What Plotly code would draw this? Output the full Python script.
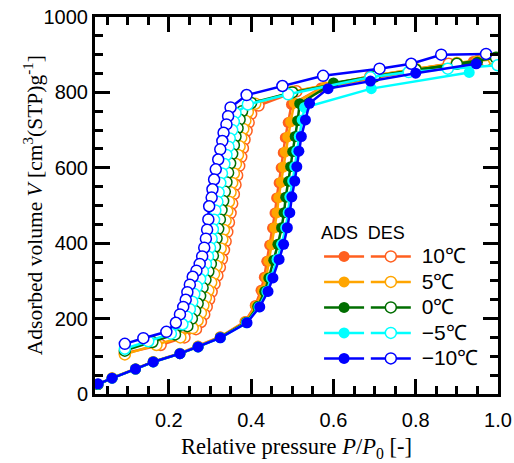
import plotly.graph_objects as go

# ---------------- data ----------------
temps = ["10℃", "5℃", "0℃", "−5℃", "−10℃"]
colors = ["#FF5F1F", "#FFA500", "#006E00", "#00FFFF", "#0000FF"]

# adsorption branches (filled markers)
ads_x_10 = [0.028, 0.062, 0.119, 0.162, 0.227, 0.271, 0.325, 0.385, 0.410, 0.424, 0.432, 0.438, 0.445, 0.452, 0.458, 0.462, 0.468, 0.473, 0.478, 0.483, 0.490, 0.498, 0.570, 0.800, 0.940]
ads_y_10 = [25, 43, 67, 86, 108, 127, 152, 192, 235, 275, 310, 352, 395, 440, 480, 520, 560, 600, 640, 680, 720, 768, 812, 858, 882]
ads_x_5 = [0.028, 0.062, 0.119, 0.162, 0.227, 0.271, 0.325, 0.386, 0.412, 0.428, 0.437, 0.443, 0.450, 0.457, 0.463, 0.467, 0.473, 0.478, 0.483, 0.489, 0.496, 0.505, 0.580, 0.800, 0.950]
ads_y_5 = [26, 43, 66, 86, 107, 126, 151, 191, 233, 274, 309, 353, 396, 441, 481, 521, 562, 602, 642, 682, 722, 772, 815, 862, 885]
ads_x_0 = [0.028, 0.062, 0.119, 0.162, 0.227, 0.271, 0.325, 0.388, 0.416, 0.433, 0.443, 0.455, 0.465, 0.474, 0.480, 0.484, 0.491, 0.496, 0.501, 0.507, 0.513, 0.518, 0.600, 0.800, 0.950]
ads_y_0 = [25, 42, 66, 85, 107, 125, 150, 190, 232, 272, 308, 355, 397, 441, 481, 522, 564, 603, 643, 683, 725, 770, 825, 860, 880]
ads_x_m5 = [0.028, 0.062, 0.119, 0.162, 0.227, 0.271, 0.325, 0.389, 0.419, 0.438, 0.449, 0.463, 0.474, 0.484, 0.490, 0.494, 0.501, 0.506, 0.511, 0.517, 0.524, 0.530, 0.692, 0.930]
ads_y_m5 = [26, 42, 66, 85, 107, 125, 149, 189, 231, 272, 308, 357, 397, 441, 481, 523, 565, 603, 644, 683, 727, 760, 810, 853]
ads_x_m10 = [0.028, 0.062, 0.119, 0.162, 0.227, 0.271, 0.325, 0.390, 0.421, 0.441, 0.453, 0.468, 0.479, 0.488, 0.494, 0.499, 0.506, 0.511, 0.516, 0.522, 0.532, 0.542, 0.587, 0.690, 0.800, 0.947]
ads_y_m10 = [27, 42, 66, 85, 107, 125, 149, 189, 231, 272, 308, 357, 397, 441, 481, 523, 565, 603, 644, 683, 727, 771, 810, 830, 851, 876]

# desorption branches (open markers)
des_x_10 = [0.970, 0.880, 0.790, 0.690, 0.510, 0.418, 0.400, 0.394, 0.389, 0.384, 0.380, 0.376, 0.371, 0.366, 0.362, 0.358, 0.354, 0.350, 0.346, 0.342, 0.338, 0.334, 0.329, 0.324, 0.318, 0.311, 0.304, 0.298, 0.292, 0.286, 0.278, 0.266, 0.238, 0.180, 0.093]
des_y_10 = [884, 876, 860, 843, 803, 765, 743, 720, 698, 675, 652, 629, 605, 580, 555, 530, 505, 480, 455, 430, 405, 382, 358, 336, 314, 292, 271, 251, 231, 211, 191, 172, 150, 130, 108]
des_x_5 = [0.990, 0.900, 0.800, 0.700, 0.500, 0.410, 0.392, 0.386, 0.381, 0.376, 0.372, 0.368, 0.363, 0.358, 0.354, 0.350, 0.346, 0.342, 0.338, 0.334, 0.330, 0.326, 0.321, 0.316, 0.310, 0.303, 0.296, 0.290, 0.284, 0.278, 0.270, 0.258, 0.228, 0.170, 0.093]
des_y_5 = [888, 878, 862, 845, 802, 770, 748, 725, 703, 680, 657, 634, 610, 585, 560, 535, 510, 485, 460, 435, 410, 386, 362, 340, 318, 296, 275, 255, 235, 215, 195, 175, 150, 130, 105]
des_x_0 = [0.995, 0.900, 0.800, 0.700, 0.500, 0.400, 0.378, 0.372, 0.367, 0.362, 0.358, 0.354, 0.349, 0.344, 0.340, 0.336, 0.332, 0.328, 0.324, 0.320, 0.316, 0.312, 0.307, 0.302, 0.296, 0.289, 0.282, 0.276, 0.270, 0.264, 0.256, 0.245, 0.215, 0.160, 0.093]
des_y_0 = [892, 876, 860, 842, 800, 772, 750, 728, 705, 683, 660, 637, 612, 587, 562, 537, 512, 488, 463, 438, 413, 390, 367, 345, 325, 303, 282, 260, 240, 220, 200, 180, 158, 138, 115]
des_x_m5 = [0.999, 0.878, 0.783, 0.690, 0.490, 0.392, 0.362, 0.358, 0.354, 0.348, 0.345, 0.340, 0.335, 0.329, 0.325, 0.321, 0.318, 0.313, 0.310, 0.307, 0.304, 0.300, 0.295, 0.290, 0.283, 0.276, 0.268, 0.262, 0.257, 0.251, 0.244, 0.233, 0.205, 0.150, 0.093]
des_y_m5 = [872, 863, 854, 840, 795, 768, 745, 722, 700, 678, 656, 634, 610, 585, 560, 535, 510, 487, 462, 437, 412, 388, 365, 345, 325, 305, 285, 265, 245, 225, 205, 185, 160, 140, 120]
des_x_m10 = [0.971, 0.862, 0.789, 0.712, 0.575, 0.476, 0.389, 0.350, 0.344, 0.340, 0.333, 0.330, 0.325, 0.320, 0.314, 0.310, 0.306, 0.304, 0.298, 0.296, 0.293, 0.290, 0.286, 0.281, 0.275, 0.267, 0.258, 0.251, 0.245, 0.241, 0.235, 0.227, 0.217, 0.194, 0.138, 0.093]
des_y_m10 = [902, 900, 876, 863, 844, 817, 793, 760, 737, 715, 693, 671, 649, 622, 596, 569, 543, 521, 498, 463, 436, 412, 388, 365, 345, 327, 311, 290, 270, 250, 231, 211, 189, 165, 148, 133]

x_ticks = [0.2, 0.4, 0.6, 0.8, 1.0]
x_tick_text = ["0.2", "0.4", "0.6", "0.8", "1.0"]
y_ticks = [0, 200, 400, 600, 800, 1000]

ads = [(ads_x_10, ads_y_10), (ads_x_5, ads_y_5), (ads_x_0, ads_y_0), (ads_x_m5, ads_y_m5), (ads_x_m10, ads_y_m10)]
des = [(des_x_10, des_y_10), (des_x_5, des_y_5), (des_x_0, des_y_0), (des_x_m5, des_y_m5), (des_x_m10, des_y_m10)]

SANS = "Liberation Sans, Arial, sans-serif"
SERIF = "Liberation Serif, Times New Roman, serif"

fig = go.Figure()
for t, c, (ax_, ay_), (dx_, dy_) in zip(temps, colors, ads, des):
    fig.add_trace(go.Scatter(
        x=ax_, y=ay_, mode="lines+markers", name="", legend="legend",
        line=dict(color=c, width=2.5),
        marker=dict(symbol="circle", size=11, color=c),
    ))
    fig.add_trace(go.Scatter(
        x=dx_, y=dy_, mode="lines+markers",
        name='<span style="font-size:21px">\u00a0' + t + '</span>', legend="legend2",
        line=dict(color=c, width=2.5),
        marker=dict(symbol="circle", size=11, color="white", line=dict(color=c, width=1.5)),
    ))

axis_common = dict(
    showline=True, linecolor="black", linewidth=3, mirror="ticks",
    ticks="inside", ticklen=15, tickwidth=2.5, tickcolor="black",
    showgrid=False, zeroline=False, automargin=False,
    tickfont=dict(family=SANS, size=20, color="black"),
)

fig.update_xaxes(
    range=[0.0205, 1.0], tickvals=x_ticks, ticktext=x_tick_text,
    ticklabelstandoff=6,
    minor=dict(dtick=0.05, tick0=0, ticks="inside", ticklen=8, tickwidth=2.5, tickcolor="black"),
    title=dict(text="Relative pressure <i>P</i>/<i>P</i><sub>0</sub> [-]",
               font=dict(family=SERIF, size=22.5, color="black"),
               standoff=9),
    **axis_common,
)
fig.update_yaxes(
    range=[0, 1000], tickvals=y_ticks,
    minor=dict(dtick=50, tick0=0, ticks="inside", ticklen=8, tickwidth=2.5, tickcolor="black"),
    **axis_common,
)

fig.add_annotation(
    text="Adsorbed volume <i>V</i> [cm<sup>3</sup>(STP)g<sup>-1</sup>]",
    xref="paper", yref="paper", x=-0.152, y=0.5, xanchor="center", yanchor="middle",
    textangle=-90, showarrow=False,
    font=dict(family=SERIF, size=21.5, color="black"),
)

legend_common = dict(
    bgcolor="rgba(0,0,0,0)", borderwidth=0, tracegroupgap=0,
    yanchor="top", xanchor="left", itemwidth=40,
    font=dict(family=SANS, size=17.3, color="black"),
)
fig.update_layout(
    width=514, height=463,
    margin=dict(l=95, r=16, t=17, b=69),
    paper_bgcolor="white", plot_bgcolor="white",
    showlegend=True,
    legend=dict(x=0.556, y=0.474,
                title=dict(text="ADS", font=dict(family=SANS, size=18, color="black")),
                **legend_common),
    legend2=dict(x=0.672, y=0.474,
                 title=dict(text="DES", font=dict(family=SANS, size=18, color="black")),
                 **legend_common),
)

fig.write_html("out.html")
